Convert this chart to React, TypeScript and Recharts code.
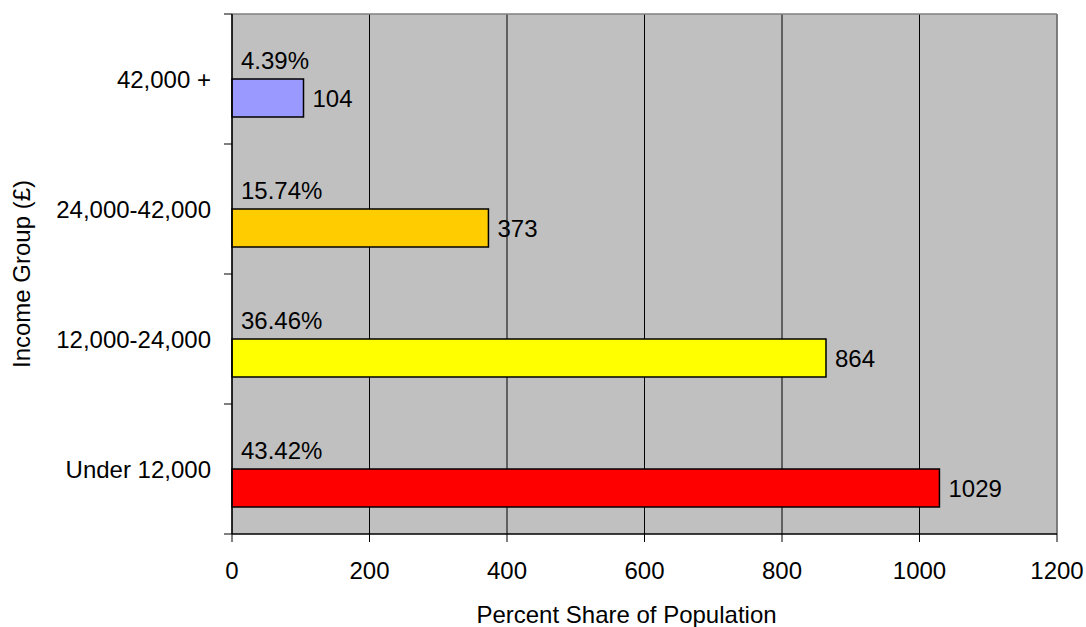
import React from "react";
import {
  BarChart,
  Bar,
  XAxis,
  YAxis,
  CartesianGrid,
  Cell,
  LabelList,
  ReferenceLine,
} from "recharts";

const groups = ["42,000 +", "24,000-42,000", "12,000-24,000", "Under 12,000"];
const counts = [104, 373, 864, 1029];
const percents = [4.39, 15.74, 36.46, 43.42];
const colors = ["#9999FF", "#FFCC00", "#FFFF00", "#FF0000"];
const xTicks = [0, 200, 400, 600, 800, 1000, 1200];

const data = groups.map((g, i) => ({ group: g, pct: percents[i], count: counts[i] }));

const FONT = "'Liberation Sans', Arial, sans-serif";
const FS = 24;
const Y_TICK_SIZE = 8;
const Y_TICK_MARGIN = 13;

const YTitle = (props: any) => {
  const vb = props.viewBox || {};
  const cy = vb.y + vb.height / 2;
  return (
    <text
      x={30}
      y={cy}
      transform={`rotate(-90, 30, ${cy})`}
      textAnchor="middle"
      fontFamily={FONT}
      fontSize={FS}
      fill="#000"
    >
      Income Group (£)
    </text>
  );
};

const XTitle = (props: any) => {
  const vb = props.viewBox || {};
  const cx = vb.x + vb.width / 2 - 18;
  return (
    <text
      x={cx}
      y={vb.y + vb.height - 4}
      textAnchor="middle"
      fontFamily={FONT}
      fontSize={FS}
      fill="#000"
    >
      Percent Share of Population
    </text>
  );
};

// Category tick: label at band centre, tick marks at band boundaries (Excel style)
const CatTick = (props: any) => {
  const { x, y, payload } = props;
  const half = payload && typeof payload.offset === "number" ? payload.offset : 0;
  const ax = x + Y_TICK_SIZE + Y_TICK_MARGIN;
  const isLast = payload && payload.value === groups[groups.length - 1];
  return (
    <g>
      <text
        x={x}
        y={y}
        dy="0.355em"
        textAnchor="end"
        fontFamily={FONT}
        fontSize={FS}
        fill="#000"
      >
        {payload ? payload.value : ""}
      </text>
      {half > 0 && (
        <line x1={ax - Y_TICK_SIZE} x2={ax} y1={y - half} y2={y - half} stroke="#000" />
      )}
      {half > 0 && isLast && (
        <line x1={ax - Y_TICK_SIZE} x2={ax} y1={y + half} y2={y + half} stroke="#000" />
      )}
    </g>
  );
};

export default function App() {
  return (
    <div style={{ position: "absolute", left: 0, top: 0 }}>
      <BarChart
        width={1086}
        height={627}
        data={data}
        layout="vertical"
        margin={{ top: 13, right: 29, bottom: 0, left: 0 }}
        barSize={38}
        barGap={0}
      >
        <CartesianGrid
          horizontal={false}
          vertical={true}
          stroke="#000"
          fill="#C0C0C0"
          fillOpacity={1}
        />
        <XAxis
          type="number"
          domain={[0, 1200]}
          ticks={xTicks}
          height={93}
          tickSize={8}
          tickMargin={20}
          axisLine={{ stroke: "#000", strokeWidth: 1.3 }}
          tickLine={{ stroke: "#000" }}
          tick={{ fill: "#000", fontSize: FS, fontFamily: FONT }}
          label={<XTitle />}
        />
        <XAxis
          xAxisId="top"
          orientation="top"
          type="number"
          domain={[0, 1200]}
          height={1}
          tick={false}
          tickLine={false}
          axisLine={{ stroke: "#808080", strokeWidth: 1.5 }}
        />
        <YAxis
          type="category"
          dataKey="group"
          orientation="left"
          width={232}
          tickSize={Y_TICK_SIZE}
          tickMargin={Y_TICK_MARGIN}
          axisLine={{ stroke: "#000", strokeWidth: 1.3 }}
          tickLine={false}
          tick={<CatTick />}
          label={<YTitle />}
        />
        <ReferenceLine x={1200} stroke="#808080" strokeWidth={1.5} />
        <Bar dataKey="pct" fill="transparent" stroke="none" isAnimationActive={false}>
          <LabelList
            dataKey="pct"
            position="insideLeft"
            offset={9}
            formatter={(v: any) => `${Number(v).toFixed(2)}%`}
            style={{ fill: "#000", fontSize: FS, fontFamily: FONT }}
          />
        </Bar>
        <Bar dataKey="count" stroke="#000" strokeWidth={1.5} isAnimationActive={false}>
          {data.map((d, i) => (
            <Cell key={d.group} fill={colors[i]} />
          ))}
          <LabelList
            dataKey="count"
            position="right"
            offset={9}
            style={{ fill: "#000", fontSize: FS, fontFamily: FONT }}
          />
        </Bar>
      </BarChart>
    </div>
  );
}
